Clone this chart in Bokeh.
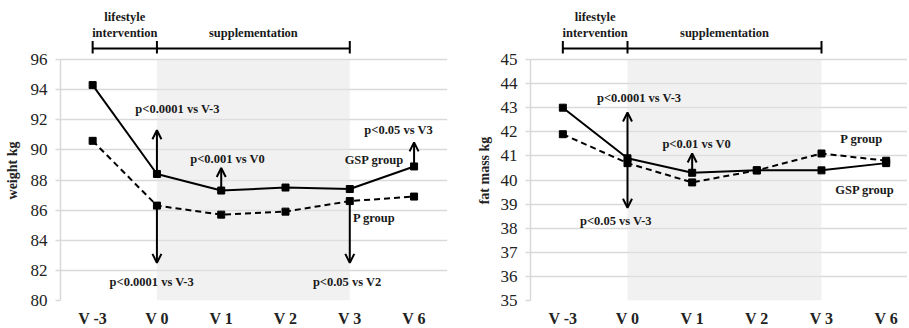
from bokeh.plotting import figure
from bokeh.layouts import row, column
from bokeh.models import (ColumnDataSource, FixedTicker, BoxAnnotation, Arrow, OpenHead,
                          Range1d)
from bokeh.core.properties import value
from bokeh.embed import file_html
from bokeh.resources import INLINE

# ---------------- data ----------------
visits = ["V -3", "V 0", "V 1", "V 2", "V 3", "V 6"]

weight_gsp = [94.3, 88.4, 87.3, 87.5, 87.4, 88.9]
weight_p = [90.6, 86.3, 85.7, 85.9, 86.6, 86.9]
weight_ticks = [80, 82, 84, 86, 88, 90, 92, 94, 96]

fat_gsp = [43.0, 40.9, 40.3, 40.4, 40.4, 40.7]
fat_p = [41.9, 40.7, 39.9, 40.4, 41.1, 40.8]
fat_ticks = [35, 36, 37, 38, 39, 40, 41, 42, 43, 44, 45]

# significance arrows: visit, start value, end value
weight_arrow_visit = ["V 0", "V 0", "V 1", "V 3", "V 6"]
weight_arrow_from = [88.4, 86.3, 87.3, 86.6, 88.9]
weight_arrow_to = [91.3, 82.5, 88.8, 82.5, 90.5]

fat_arrow_visit = ["V 0", "V 0", "V 1"]
fat_arrow_from = [40.9, 40.7, 40.3]
fat_arrow_to = [42.8, 38.85, 41.1]

# annotation texts and their anchor (x in visit units, y in value units)
weight_notes = ["p<0.0001 vs V-3", "p<0.0001 vs V-3", "p<0.001 vs V0",
                "p<0.05 vs V2", "p<0.05 vs V3", "GSP group", "P group"]
weight_note_x = [1.82, 1.42, 2.60, 4.46, 5.26, 4.88, 4.88]
weight_note_y = [92.7, 81.2, 89.4, 81.2, 91.3, 89.3, 85.5]

fat_notes = ["p<0.0001 vs V-3", "p<0.05 vs V-3", "p<0.01 vs V0", "P group", "GSP group"]
fat_note_x = [1.68, 1.32, 2.57, 5.12, 5.17]
fat_note_y = [43.4, 38.3, 41.5, 41.7, 39.6]

# study phases (visit boundaries)
phase_names = ["lifestyle\nintervention", "supplementation"]
phase_bounds = ["V -3", "V 0", "V 3"]

SERIF = "Liberation Serif"
GRID = "#d9d9d9"
TOP_H = 40      # strip above the chart holding the phase titles
FRAME_H = 260   # main plotting frame (includes headroom for the bracket)
HEAD_PX = 19    # headroom above the top gridline
BOTTOM = 28


def make_chart(gsp, p_vals, ticks, ylabel, arrow_visit, arrow_from, arrow_to,
               notes, note_x, note_y, frame_w, border_left, border_right, x_end,
               label_standoff):
    xs = [i + 0.5 for i in range(len(visits))]
    vidx = {v: i + 0.5 for i, v in enumerate(visits)}
    ymin, ymax = ticks[0], ticks[-1]
    ppu = (FRAME_H - HEAD_PX) / (ymax - ymin)
    y_top = ymax + HEAD_PX / ppu
    xr = Range1d(0, x_end)
    bx = [vidx[b] for b in phase_bounds]
    mids = [(bx[0] + bx[1]) / 2, (bx[1] + bx[2]) / 2]

    # ---------- phase titles strip ----------
    top = figure(frame_width=frame_w, frame_height=TOP_H, output_backend="svg",
                 toolbar_location=None, x_range=xr, y_range=Range1d(0, TOP_H),
                 x_axis_location=None, y_axis_location=None,
                 min_border_left=border_left, min_border_right=border_right,
                 min_border_top=0, min_border_bottom=0)
    top.outline_line_color = None
    top.grid.visible = False
    lines_t, lines_x, lines_y = [], [], []
    for name, m in zip(phase_names, mids):
        parts = name.split("\n")
        for k, part in enumerate(reversed(parts)):
            lines_t.append(part)
            lines_x.append(m)
            lines_y.append(8 + 15.5 * k)
    psrc = ColumnDataSource(dict(x=lines_x, y=lines_y, t=lines_t))
    top.text(x="x", y="y", text="t", source=psrc, text_font=value(SERIF),
             text_font_style="bold", text_font_size="12.5px", text_color="#1a1a1a",
             text_align="center", text_baseline="alphabetic")

    # ---------- main chart ----------
    p = figure(frame_width=frame_w, frame_height=FRAME_H, output_backend="svg",
               toolbar_location=None, x_range=xr, y_range=Range1d(ymin, y_top),
               min_border_left=border_left, min_border_right=border_right,
               min_border_top=0, min_border_bottom=BOTTOM)
    p.outline_line_color = None

    # shaded supplementation period
    p.add_layout(BoxAnnotation(left=vidx[phase_bounds[1]], right=vidx[phase_bounds[2]],
                               bottom=ymin, top=ymax,
                               fill_color="#e4e4e4", fill_alpha=0.5,
                               line_color=None, level="underlay"))

    p.xgrid.visible = False
    p.ygrid.grid_line_color = GRID
    p.ygrid.grid_line_width = 1.5
    p.yaxis.ticker = FixedTicker(ticks=ticks)
    p.ygrid.ticker = FixedTicker(ticks=ticks)
    p.yaxis.bounds = (ymin, ymax)
    p.yaxis.axis_line_color = GRID
    p.yaxis.axis_line_width = 1.5
    p.yaxis.major_tick_line_color = GRID
    p.yaxis.major_tick_line_width = 1.5
    p.yaxis.major_tick_out = 5
    p.yaxis.major_tick_in = 0
    p.yaxis.minor_tick_line_color = None
    p.yaxis.major_label_text_font = SERIF
    p.yaxis.major_label_text_font_size = "17px"
    p.yaxis.major_label_text_color = "#222222"
    p.yaxis.major_label_standoff = 8
    p.yaxis.axis_label = ylabel
    p.yaxis.axis_label_text_font = SERIF
    p.yaxis.axis_label_text_font_style = "bold"
    p.yaxis.axis_label_text_font_size = "14px"
    p.yaxis.axis_label_text_color = "#222222"
    p.yaxis.axis_label_standoff = label_standoff

    p.xaxis.ticker = FixedTicker(ticks=xs)
    p.xaxis.major_label_overrides = {x: v for x, v in zip(xs, visits)}
    p.xaxis.axis_line_color = None
    p.xaxis.major_tick_line_color = None
    p.xaxis.major_tick_out = 0
    p.xaxis.major_tick_in = 0
    p.xaxis.minor_tick_line_color = None
    p.xaxis.minor_tick_out = 0
    p.xaxis.major_label_text_font = SERIF
    p.xaxis.major_label_text_font_style = "bold"
    p.xaxis.major_label_text_font_size = "16px"
    p.xaxis.major_label_text_color = "#222222"
    p.xaxis.major_label_standoff = 9

    # phase bracket (in the headroom above the top gridline)
    by = ymax + 11 / ppu
    p.segment(x0=[bx[0]], y0=[by], x1=[bx[-1]], y1=[by], line_color="black", line_width=2)
    p.segment(x0=bx, y0=[by - 5 / ppu] * 3, x1=bx, y1=[by + 7.5 / ppu] * 3,
              line_color="black", line_width=2)

    # series
    p.line(xs, p_vals, line_color="black", line_width=2, line_dash="6 4")
    p.scatter(xs, p_vals, marker="square", size=7, color="black")
    p.line(xs, gsp, line_color="black", line_width=2)
    p.scatter(xs, gsp, marker="square", size=7, color="black")

    # arrows
    asrc = ColumnDataSource(dict(x=[vidx[v] for v in arrow_visit], y0=arrow_from, y1=arrow_to))
    p.add_layout(Arrow(end=OpenHead(size=9, line_width=2, line_color="black"),
                       x_start="x", y_start="y0", x_end="x", y_end="y1",
                       line_width=2, line_color="black", source=asrc))

    # notes
    nsrc = ColumnDataSource(dict(x=note_x, y=note_y, t=notes))
    p.text(x="x", y="y", text="t", source=nsrc, text_font=value(SERIF),
           text_font_style="bold", text_font_size="12.5px", text_color="#1a1a1a",
           text_align="center", text_baseline="middle")
    return column(top, p, spacing=0)


left = make_chart(weight_gsp, weight_p, weight_ticks, "weight kg",
                  weight_arrow_visit, weight_arrow_from, weight_arrow_to,
                  weight_notes, weight_note_x, weight_note_y,
                  frame_w=387, border_left=60, border_right=8, x_end=6.02,
                  label_standoff=8)
right = make_chart(fat_gsp, fat_p, fat_ticks, "fat mass kg",
                   fat_arrow_visit, fat_arrow_from, fat_arrow_to,
                   fat_notes, fat_note_x, fat_note_y,
                   frame_w=377, border_left=75, border_right=0, x_end=5.83,
                   label_standoff=6)

layout = row(left, right, spacing=0)
open("out.html", "w").write(file_html(layout, INLINE))
